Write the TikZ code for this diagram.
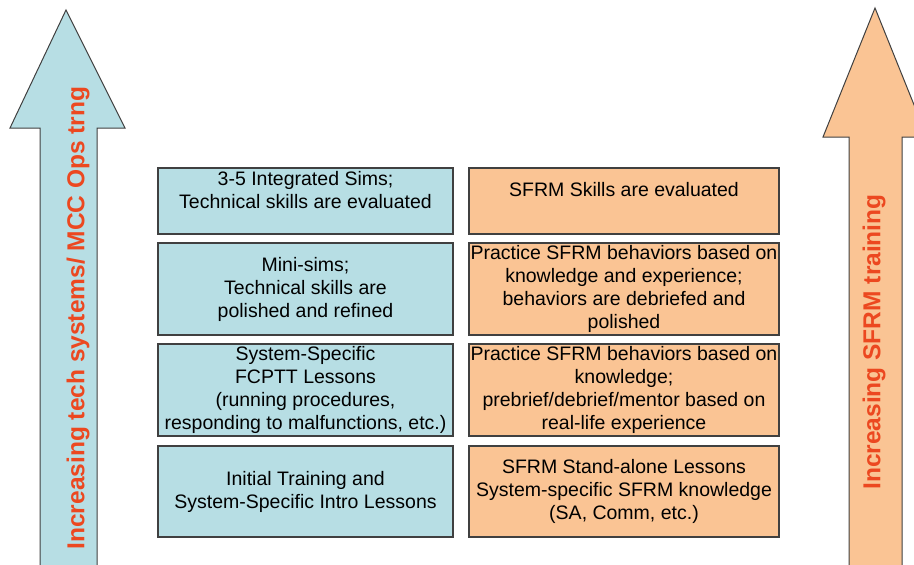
\documentclass[tikz,border=0pt]{standalone}
\usepackage{fontspec}
\setmainfont{Liberation Sans}
\usepackage{xcolor}
\usepackage{tikz}
\definecolor{techblue}{RGB}{183,222,228}
\definecolor{sfrmorange}{RGB}{250,196,148}
\definecolor{risered}{RGB}{236,72,32}
\definecolor{edgegray}{RGB}{64,64,64}

\begin{document}
\begin{tikzpicture}[x=1pt,y=-1pt,
	box/.style={draw=edgegray,line width=1.2pt,inner sep=0pt,align=center,
		font=\fontsize{19.5}{23}\selectfont},
	techbox/.style={box,fill=techblue,minimum width=295pt},
	sfrmbox/.style={box,fill=sfrmorange,minimum width=310pt},
	risearrow/.style={draw=edgegray,line width=1pt},
	risetext/.style={rotate=90,text=risered,font=\fontsize{24.5}{28}\selectfont\bfseries}]
\useasboundingbox (0,0) rectangle (914,565);
%	arrows
\draw[risearrow,fill=techblue] (40,572) -- (40,128) -- (10,128) -- (66,10)
	-- (125,128) -- (97,128) -- (97,572) -- cycle;
\draw[risearrow,fill=sfrmorange] (849,572) -- (849,137) -- (823,137) -- (875,8)
	-- (927,137) -- (902,137) -- (902,572) -- cycle;
\node[risetext] (techrise) at (78,318) {Increasing tech systems/ MCC Ops trng};
\node[risetext] (sfrmrise) at (874,342) {Increasing SFRM training};
%	tech boxes
\node[techbox,minimum height=66pt] (tech4) at (305.5,201)
	{3-5 Integrated Sims;\\Technical skills are evaluated\\~};
\node[techbox,minimum height=92pt] (tech3) at (305.5,289)
	{Mini-sims;\\Technical skills are\\polished and refined};
\node[techbox,minimum height=92pt] (tech2) at (305.5,390)
	{System-Specific\\FCPTT Lessons\\(running procedures,\\responding to malfunctions, etc.)};
\node[techbox,minimum height=91pt] (tech1) at (305.5,491.5)
	{Initial Training and\\System-Specific Intro Lessons};
%	SFRM boxes
\node[sfrmbox,minimum height=66pt] (sfrm4) at (624,201)
	{SFRM Skills are evaluated\\~};
\node[sfrmbox,minimum height=92pt] (sfrm3) at (624,289)
	{Practice SFRM behaviors based on\\knowledge and experience;\\behaviors are debriefed and\\polished};
\node[sfrmbox,minimum height=92pt] (sfrm2) at (624,390)
	{Practice SFRM behaviors based on\\knowledge;\\prebrief/debrief/mentor based on\\real-life experience};
\node[sfrmbox,minimum height=91pt] (sfrm1) at (624,491.5)
	{SFRM Stand-alone Lessons\\System-specific SFRM knowledge\\(SA, Comm, etc.)};
\end{tikzpicture}
\end{document}
